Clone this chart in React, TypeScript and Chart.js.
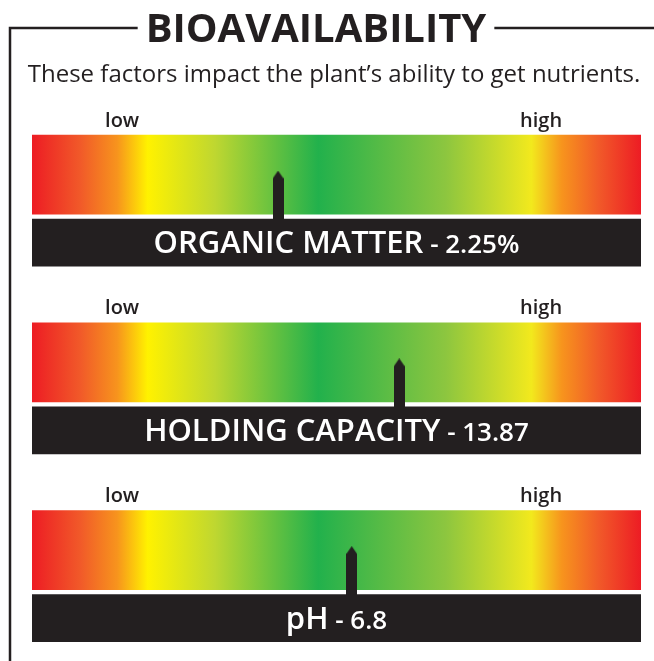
import React, { useEffect, useRef } from "react";
import { Chart, registerables } from "chart.js";

Chart.register(...registerables);

const titleText = "BIOAVAILABILITY";
const subtitleText = "These factors impact the plant\u2019s ability to get nutrients.";
const factors = ["ORGANIC MATTER", "HOLDING CAPACITY", "pH"];
const readings = ["2.25%", "13.87", "6.8"];
// marker position on the low → high scale (0–100)
const markerPositions = [40.4, 60.3, 52.5];
const scaleLabels = ["low", "high"];
const scaleLabelPositions = [14.8, 83.6];
const rows = [0, 1, 2];

const INK = "#231F20";
const FONT = "'Open Sans', 'Noto Sans', sans-serif";

function makeMarker(): HTMLCanvasElement {
  const c = document.createElement("canvas");
  c.width = 11;
  c.height = 50;
  const g = c.getContext("2d")!;
  g.fillStyle = INK;
  g.beginPath();
  g.moveTo(5.5, 0);
  g.lineTo(11, 8);
  g.lineTo(11, 50);
  g.lineTo(0, 50);
  g.lineTo(0, 8);
  g.closePath();
  g.fill();
  return c;
}

const ROW_PX = 187.75;
const BLACK_OFFSET = 68 / ROW_PX;
const MARKER_OFFSET = 21 / ROW_PX;
const LABEL_OFFSET = -48 / ROW_PX;

const decorPlugin = {
  id: "decor",
  beforeDatasetsDraw(chart: any) {
    const { ctx } = chart;
    const xs = chart.scales.x;
    const ys = chart.scales.y;
    ctx.save();
    // frame + title
    ctx.font = `bold 40px ${FONT}`;
    const tw = ctx.measureText(titleText).width;
    const tcx = 316;
    const lineY = 28;
    ctx.strokeStyle = INK;
    ctx.lineWidth = 2.5;
    ctx.beginPath();
    ctx.moveTo(10, chart.height);
    ctx.lineTo(10, lineY);
    ctx.lineTo(tcx - tw / 2 - 8, lineY);
    ctx.moveTo(tcx + tw / 2 + 8, lineY);
    ctx.lineTo(chart.width, lineY);
    ctx.stroke();
    ctx.fillStyle = INK;
    ctx.textAlign = "center";
    ctx.textBaseline = "alphabetic";
    ctx.fillText(titleText, tcx, 42);
    ctx.font = `24px ${FONT}`;
    ctx.fillText(subtitleText, 334, 82);
    // low / high
    ctx.font = `600 20px ${FONT}`;
    rows.forEach((r) => {
      scaleLabels.forEach((lab, i) => {
        ctx.fillText(lab, xs.getPixelForValue(scaleLabelPositions[i]), ys.getPixelForValue(r + LABEL_OFFSET));
      });
    });
    ctx.restore();
  },
  afterDatasetsDraw(chart: any) {
    const { ctx } = chart;
    const xs = chart.scales.x;
    const ys = chart.scales.y;
    ctx.save();
    ctx.fillStyle = "#ffffff";
    ctx.textBaseline = "alphabetic";
    ctx.textAlign = "left";
    rows.forEach((r) => {
      const big = `600 31px ${FONT}`;
      const small = `600 26px ${FONT}`;
      const name = factors[r];
      const val = " - " + readings[r];
      ctx.font = big;
      const w1 = ctx.measureText(name).width;
      ctx.font = small;
      const w2 = ctx.measureText(val).width;
      const cx = xs.getPixelForValue(50);
      const cy = ys.getPixelForValue(r + BLACK_OFFSET);
      const x0 = cx - (w1 + w2) / 2;
      ctx.font = big;
      ctx.fillText(name, x0, cy + 10.5);
      ctx.font = small;
      ctx.fillText(val, x0 + w1, cy + 10.5);
    });
    ctx.restore();
  },
};

export default function App() {
  const ref = useRef<HTMLCanvasElement>(null);
  useEffect(() => {
    const marker = makeMarker();
    const gradientFill = (context: any) => {
      const chart = context.chart;
      if (!chart.chartArea) return "#22B14C";
      const xs = chart.scales.x;
      const g = chart.ctx.createLinearGradient(xs.getPixelForValue(0), 0, xs.getPixelForValue(100), 0);
      g.addColorStop(0, "#ED1C24");
      g.addColorStop(0.08, "#F15A29");
      g.addColorStop(0.14, "#F7941D");
      g.addColorStop(0.19, "#FFF200");
      g.addColorStop(0.3, "#BFD730");
      g.addColorStop(0.47, "#22B14C");
      g.addColorStop(0.68, "#8DC63F");
      g.addColorStop(0.82, "#F2E91D");
      g.addColorStop(0.87, "#F7941D");
      g.addColorStop(0.93, "#F15A29");
      g.addColorStop(1, "#ED1C24");
      return g;
    };
    const chart = new Chart(ref.current!, {
      type: "bar",
      data: {
        datasets: [
          {
            type: "scatter",
            order: 0,
            data: rows.map((r) => ({ x: markerPositions[r], y: r + MARKER_OFFSET })),
            pointStyle: marker as any,
            pointRadius: 6,
            backgroundColor: INK,
          } as any,
          {
            type: "bar",
            order: 1,
            indexAxis: "y",
            grouped: false,
            barThickness: 47,
            backgroundColor: INK,
            borderWidth: 0,
            data: rows.map((r) => ({ x: [0, 100], y: r + BLACK_OFFSET })),
          } as any,
          {
            type: "bar",
            order: 2,
            indexAxis: "y",
            grouped: false,
            barThickness: 79,
            backgroundColor: gradientFill,
            borderWidth: 0,
            data: rows.map((r) => ({ x: [0, 100], y: r })),
          } as any,
        ],
      },
      options: {
        animation: false,
        responsive: false,
        events: [],
        layout: { autoPadding: false, padding: { left: 32, right: 13, top: 0, bottom: 0 } },
        plugins: { legend: { display: false }, title: { display: false }, tooltip: { enabled: false } },
        scales: {
          x: { type: "linear", min: 0, max: 100, display: false, offset: false },
          y: { type: "linear", min: -0.93, max: -0.93 + 661 / ROW_PX, reverse: true, display: false, offset: false },
        },
      },
      plugins: [decorPlugin],
    });
    return () => chart.destroy();
  }, []);
  return (
    <div style={{ position: "absolute", left: 0, top: 0, width: 654, height: 661, background: "#fff" }}>
      <canvas ref={ref} width={654} height={661} style={{ display: "block" }} />
    </div>
  );
}
